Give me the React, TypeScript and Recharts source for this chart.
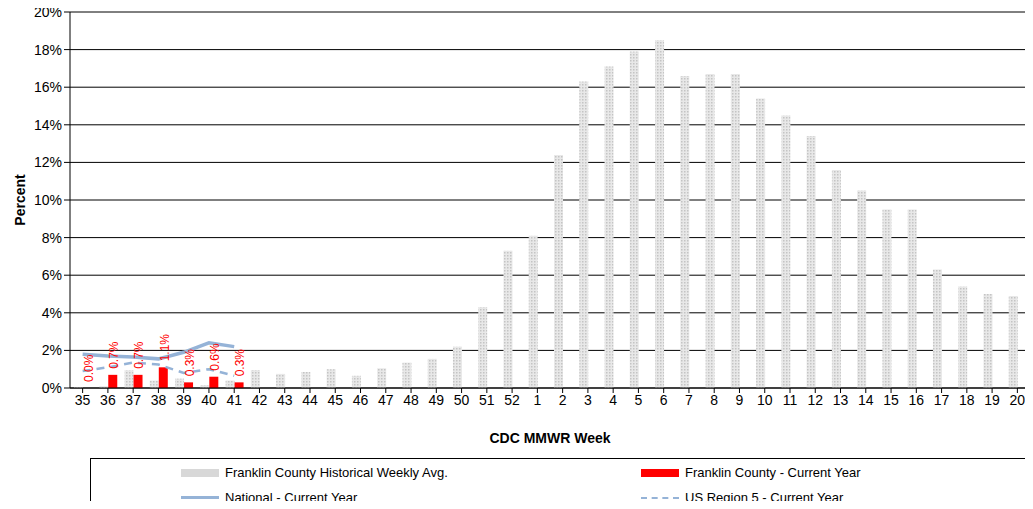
import { ComposedChart, Bar, Line, XAxis, YAxis, CartesianGrid, LabelList } from 'recharts';

const weeks = ['35','36','37','38','39','40','41','42','43','44','45','46','47','48','49','50','51','52','1','2','3','4','5','6','7','8','9','10','11','12','13','14','15','16','17','18','19','20'];
const historical = [0.05,0.1,0.95,0.4,0.5,0.15,0.4,0.95,0.75,0.85,1.0,0.65,1.05,1.35,1.55,2.2,4.3,7.3,8.1,12.4,16.3,17.1,17.9,18.5,16.6,16.7,16.7,15.4,14.5,13.4,11.6,10.5,9.5,9.5,6.3,5.4,5.0,4.9];
const franklin = [0.0,0.7,0.7,1.1,0.3,0.6,0.3];
const national = [1.8,1.7,1.65,1.55,1.9,2.4,2.2];
const region5 = [0.9,1.1,1.35,1.25,0.8,1.0,0.65];
const yTicks = [0,2,4,6,8,10,12,14,16,18,20];

const data = weeks.map((w, i) => ({
  week: w,
  hist: historical[i],
  fc: i < franklin.length ? franklin[i] : null,
  nat: i < national.length ? national[i] : null,
  reg: i < region5.length ? region5[i] : null,
}));

const font = 'Arial, "Liberation Sans", sans-serif';

const FcLabel = (props: any) => {
  const { x, y, value } = props;
  if (value == null) return null;
  const cx = x + 7;
  const cy = y - 6;
  return (
    <text x={cx} y={cy} transform={`rotate(-90 ${cx} ${cy})`} fill="#ff0000" fontSize={12} fontFamily={font} textAnchor="start" dominantBaseline="middle">
      {value.toFixed(1)}%
    </text>
  );
};

export default function App() {
  return (
    <div style={{ width: 1033, height: 509, position: 'relative', fontFamily: font, background: '#fff', margin: -8, overflow: 'hidden' }}>
      <ComposedChart width={1033} height={445} data={data} margin={{ top: 12, right: 3, left: 12, bottom: 0 }} barGap={0} barCategoryGap="28%">
        <defs>
          <pattern id="dots" width="3" height="3" patternUnits="userSpaceOnUse">
            <rect width="3" height="3" fill="#e8e8e8" />
            <rect width="1.5" height="1.5" fill="#c4c4c4" />
          </pattern>
        </defs>
        <CartesianGrid vertical={false} stroke="#000" strokeWidth={1} />
        <XAxis dataKey="week" stroke="#000" tick={{ fill: '#000', fontSize: 14, fontFamily: font }} tickSize={5}
          label={{ value: 'CDC MMWR Week', position: 'insideBottom', offset: 2, fill: '#000', fontSize: 14, fontWeight: 700, fontFamily: font }} height={57} />
        <YAxis domain={[0, 20]} ticks={yTicks} tickFormatter={(v) => `${v}%`} stroke="#000" width={58}
          tick={{ fill: '#000', fontSize: 14, fontFamily: font }}
          label={{ value: 'Percent', angle: -90, position: 'insideLeft', offset: 0, dx: 8, fill: '#000', fontSize: 14, fontWeight: 700, fontFamily: font, style: { textAnchor: 'middle' } }} />
        <Bar dataKey="hist" fill="url(#dots)" barSize={9} isAnimationActive={false} />
        <Bar dataKey="fc" fill="#ff0000" barSize={9} isAnimationActive={false} />
        <Line dataKey="nat" stroke="#95b3d7" strokeWidth={3.5} dot={false} isAnimationActive={false} connectNulls={false} />
        <Line dataKey="reg" stroke="#95b3d7" strokeWidth={2.5} strokeDasharray="8 6" dot={false} isAnimationActive={false} connectNulls={false} />
        <Line dataKey="fc" stroke="none" dot={false} activeDot={false} isAnimationActive={false} legendType="none">
          <LabelList dataKey="fc" content={FcLabel} />
        </Line>
      </ComposedChart>
      <div style={{ position: 'absolute', left: 90, top: 458, width: 940, height: 60, border: '1px solid #000', fontSize: 13, color: '#000' }}>
        <div style={{ position: 'absolute', left: 90, top: 6, display: 'flex', alignItems: 'center' }}>
          <span style={{ display: 'inline-block', width: 38, height: 8, background: '#d8d8d8', marginRight: 6 }} />Franklin County Historical Weekly Avg.
        </div>
        <div style={{ position: 'absolute', left: 550, top: 6, display: 'flex', alignItems: 'center' }}>
          <span style={{ display: 'inline-block', width: 38, height: 8, background: '#ff0000', marginRight: 6 }} />Franklin County - Current Year
        </div>
        <div style={{ position: 'absolute', left: 90, top: 31, display: 'flex', alignItems: 'center' }}>
          <span style={{ display: 'inline-block', width: 38, height: 3, background: '#95b3d7', marginRight: 6 }} />National - Current Year
        </div>
        <div style={{ position: 'absolute', left: 550, top: 31, display: 'flex', alignItems: 'center' }}>
          <span style={{ display: 'inline-block', width: 38, height: 0, borderTop: '2px dashed #95b3d7', marginRight: 6 }} />US Region 5 - Current Year
        </div>
      </div>
    </div>
  );
}
